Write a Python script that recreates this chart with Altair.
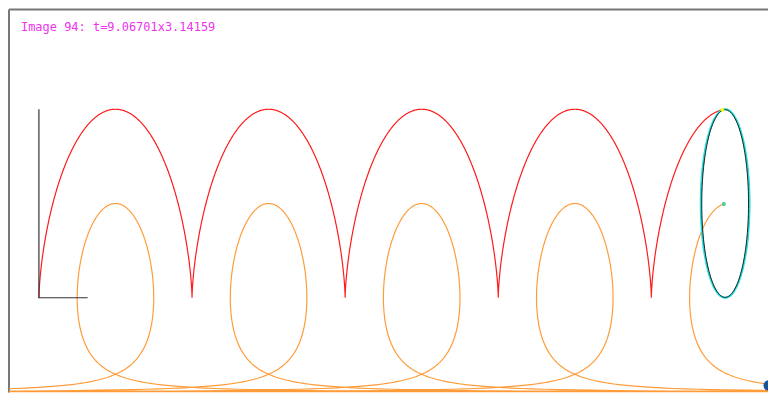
import numpy as np
import pandas as pd
import altair as alt

# ---- values ----
LABEL = "Image 94: t=9.06701x3.14159"
T_DRAWN = 8.964 * np.pi          # parameter at which the wheel is drawn
RADIUS = 1.0                      # wheel radius (data units)
STEP = 2 * np.pi / 400            # sampling step of the traced curves
AXIS_PATH_X = [0, 0, 2]           # small black reference axes
AXIS_PATH_Y = [2, 0, 0]
BLOB_X = [29.95, 29.80]           # dark blue marker at bottom-right corner
BLOB_Y = [-0.93, -1.07]

X_DOMAIN = [-1.228, 29.92]
Y_DOMAIN = [-1.005, 3.058]
W, H = 761, 384

# ---- curves from the cycloid construction ----
t_red = np.append(np.arange(0, T_DRAWN, STEP), T_DRAWN)
red = pd.DataFrame({"x": RADIUS * (t_red - np.sin(t_red)),
                    "y": RADIUS * (1 - np.cos(t_red))})
red["i"] = np.arange(len(red))

t_or = np.append(np.arange(STEP / 2, T_DRAWN, STEP), T_DRAWN)
orange = pd.DataFrame({"x": RADIUS * (t_or + np.cos(t_or) / np.tan(t_or / 2)),
                       "y": -RADIUS * np.cos(t_or)})
orange["i"] = np.arange(len(orange))

th = np.linspace(0, 2 * np.pi, 241)
wheel = pd.DataFrame({"x": RADIUS * T_DRAWN + RADIUS * np.cos(th),
                      "y": RADIUS + RADIUS * np.sin(th)})
wheel["i"] = np.arange(len(wheel))
wheel_in = pd.DataFrame({"x": RADIUS * T_DRAWN + 0.96 * RADIUS * np.cos(th),
                         "y": RADIUS + 0.995 * RADIUS * np.sin(th)})
wheel_in["i"] = np.arange(len(wheel_in))

axes_df = pd.DataFrame({"x": AXIS_PATH_X, "y": AXIS_PATH_Y, "i": range(3)})

red_pt = pd.DataFrame({"x": [red["x"].iloc[-1]], "y": [red["y"].iloc[-1]]})
or_pt = pd.DataFrame({"x": [orange["x"].iloc[-1]], "y": [orange["y"].iloc[-1]]})
blob = pd.DataFrame({"x": BLOB_X, "y": BLOB_Y})

xs = alt.Scale(domain=X_DOMAIN, nice=False, zero=False)
ys = alt.Scale(domain=Y_DOMAIN, nice=False, zero=False)


def path(df, color, width):
    return alt.Chart(df).mark_line(color=color, strokeWidth=width, clip=True).encode(
        x=alt.X("x:Q", scale=xs, axis=None),
        y=alt.Y("y:Q", scale=ys, axis=None),
        order="i:Q",
    )


def dots(df, color, size):
    return alt.Chart(df).mark_point(filled=True, color=color, size=size, opacity=1, clip=True).encode(
        x=alt.X("x:Q", scale=xs, axis=None),
        y=alt.Y("y:Q", scale=ys, axis=None),
    )


frame_top = alt.Chart(pd.DataFrame({"a": [0]})).mark_rule(color="#777777", strokeWidth=2).encode(
    x=alt.value(0), x2=alt.value(W), y=alt.value(0))
frame_left = alt.Chart(pd.DataFrame({"a": [0]})).mark_rule(color="#777777", strokeWidth=2).encode(
    x=alt.value(0), y=alt.value(0), y2=alt.value(H))

label = alt.Chart(pd.DataFrame({"t": [LABEL]})).mark_text(
    align="left", baseline="alphabetic", font="DejaVu Sans Mono", fontSize=12, color="#ee33ee"
).encode(x=alt.value(12), y=alt.value(22), text="t:N")

chart = alt.layer(
    frame_top,
    frame_left,
    path(orange, "#ff9c3a", 1.2),
    path(red, "#ff1a1a", 1.2),
    path(axes_df, "#333333", 1.2),
    path(wheel, "#22dddd", 2),
    path(wheel_in, "#1a1a1a", 1),
    dots(red_pt, "#ffff00", 14),
    dots(or_pt, "#55c8a0", 18),
    dots(blob, "#15569a", 110),
    label,
).properties(width=W, height=H, padding=0).configure_view(strokeWidth=0)

chart.save("out.html", embed_options={"renderer": "svg", "actions": False})
